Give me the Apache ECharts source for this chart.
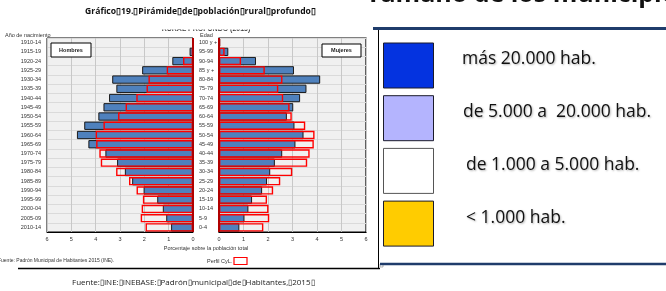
<!DOCTYPE html>
<html>
<head>
<meta charset="utf-8">
<script src="https://cdn.jsdelivr.net/npm/echarts@6/dist/echarts.min.js"></script>
<style>
  html, body { margin: 0; padding: 0; background: #fff; }
  #chart { width: 666px; height: 291px; }
</style>
</head>
<body>
<div id="chart"></div>
<script>
// edades (eje central) y años de nacimiento, de arriba a abajo
const ages = ['100 y +', '95-99', '90-94', '85 y +', '80-84', '75-79', '70-74', '65-69', '60-64', '55-59', '50-54',
  '45-49', '40-44', '35-39', '30-34', '25-29', '20-24', '15-19', '10-14', '5-9', '0-4'];
const birthYears = ['1910-14', '1915-19', '1920-24', '1925-29', '1930-34', '1935-39', '1940-44', '1945-49', '1950-54',
  '1955-59', '1960-64', '1965-69', '1970-74', '1975-79', '1980-84', '1985-89', '1990-94', '1995-99', '2000-04',
  '2005-09', '2010-14'];

// % sobre la población total
const menRural = [0.03, 0.14, 0.85, 2.09, 3.32, 3.15, 3.45, 3.68, 3.89, 4.47, 4.77, 4.3, 3.6, 3.12, 2.8, 2.5, 2.03, 1.47, 1.24, 1.1, 0.9];
const menCyL = [0.02, 0.05, 0.41, 1.08, 1.83, 1.91, 2.33, 2.77, 3.08, 3.68, 4.0, 3.98, 3.85, 3.79, 3.16, 2.63, 2.32, 2.06, 2.11, 2.15, 1.95];
const womenRural = [0.05, 0.38, 1.51, 3.06, 4.13, 3.57, 3.31, 3.03, 2.77, 3.08, 3.45, 3.12, 2.58, 2.28, 2.09, 1.96, 1.76, 1.35, 1.2, 1.04, 0.83];
const womenCyL = [0.04, 0.23, 0.9, 1.87, 2.59, 2.42, 2.62, 2.88, 2.97, 3.52, 3.9, 3.87, 3.7, 3.6, 2.99, 2.5, 2.21, 1.96, 2.02, 2.05, 1.81];

const legendLabels = ['más 20.000 hab.', 'de 5.000 a  20.000 hab.', 'de 1.000 a 5.000 hab.', '< 1.000 hab.'];
const legendColors = ['#0433e0', '#b4b4fe', '#ffffff', '#ffcc00'];

const B = '\u25AF';
const small = { fontFamily: 'Liberation Sans', fontSize: 5.5, color: '#333' };

const myChart = echarts.init(document.getElementById('chart'));

function xAx(gridIndex, inverse) {
  return {
    type: 'value', gridIndex, inverse, min: 0, max: 6, interval: 1,
    axisLine: { show: true, lineStyle: { color: '#000', width: 1 } },
    axisTick: { show: false },
    axisLabel: Object.assign({ margin: 4 }, small),
    splitLine: { show: true, lineStyle: { color: '#c8c8c8', width: 1 } }
  };
}
function yAx(gridIndex, labels, align, margin) {
  return {
    type: 'category', gridIndex, data: labels, inverse: true,
    axisLine: { show: false }, axisTick: { show: false },
    axisLabel: Object.assign({ margin, align, interval: 0 }, small),
    splitLine: { show: true, interval: 0, lineStyle: { color: '#dadada', width: 1 } }
  };
}
const zeroLine = {
  silent: true, symbol: 'none', label: { show: false },
  lineStyle: { color: '#b00000', width: 2, type: 'solid' },
  data: [{ xAxis: 0 }]
};
function bars(idx, data, profile) {
  return {
    type: 'bar', xAxisIndex: idx, yAxisIndex: idx, data,
    barGap: '-100%', barCategoryGap: '10%', silent: true,
    itemStyle: profile
      ? { color: 'rgba(0,0,0,0)', borderColor: '#ff0000', borderWidth: 1.4 }
      : { color: '#4f81bd', borderColor: '#1a1a1a', borderWidth: 1 },
    z: profile ? 3 : 2,
    markLine: profile ? zeroLine : undefined
  };
}

const graphic = [
  { type: 'text', x: 366, y: 7.5, style: { text: 'Tamaño de los municipios', font: 'bold 25px "Open Sans"', fill: '#111', textVerticalAlign: 'bottom' } },
  { type: 'text', x: 200.5, y: 12, style: { text: 'Gráfico' + B + '19.' + B + 'Pirámide' + B + 'de' + B + 'población' + B + 'rural' + B + 'profundo' + B, font: 'bold 8.6px "Open Sans"', fill: '#111', textAlign: 'center', textVerticalAlign: 'middle' } },
  { type: 'text', x: 206, y: 29, style: { text: 'RURAL PROFUNDO (2015)', font: 'bold 7px "Liberation Sans"', fill: '#444', textAlign: 'center', textVerticalAlign: 'middle' } },
  { type: 'rect', shape: { x: 150, y: 20, width: 110, height: 9.5 }, style: { fill: '#fff' }, z: 10 },
  { type: 'text', x: 5, y: 35, style: { text: 'Año de nacimiento', font: '5.5px "Liberation Sans"', fill: '#333', textVerticalAlign: 'middle' } },
  { type: 'text', x: 200, y: 35, style: { text: 'Edad', font: '5.5px "Liberation Sans"', fill: '#333', textVerticalAlign: 'middle' } },
  { type: 'rect', shape: { x: 51, y: 43, width: 40, height: 14 }, style: { fill: '#fff', stroke: '#000', lineWidth: 1 }, z: 10 },
  { type: 'text', x: 71, y: 50, z: 11, style: { text: 'Hombres', font: 'bold 5.5px "Liberation Sans"', fill: '#222', textAlign: 'center', textVerticalAlign: 'middle' } },
  { type: 'rect', shape: { x: 322, y: 44, width: 39, height: 13 }, style: { fill: '#fff', stroke: '#000', lineWidth: 1 }, z: 10 },
  { type: 'text', x: 341.5, y: 50.5, z: 11, style: { text: 'Mujeres', font: 'bold 5.5px "Liberation Sans"', fill: '#222', textAlign: 'center', textVerticalAlign: 'middle' } },
  { type: 'text', x: 206, y: 248, style: { text: 'Porcentaje sobre la población total', font: '5.5px "Liberation Sans"', fill: '#333', textAlign: 'center', textVerticalAlign: 'middle' } },
  { type: 'text', x: -2, y: 261, style: { text: 'Fuente: Padrón Municipal de Habitantes 2015 (INE).', font: '5px "Liberation Sans"', fill: '#333', textVerticalAlign: 'middle' } },
  { type: 'text', x: 207, y: 261, style: { text: 'Perfil CyL.', font: '5.5px "Liberation Sans"', fill: '#333', textVerticalAlign: 'middle' } },
  { type: 'rect', shape: { x: 234, y: 257.5, width: 13, height: 7 }, style: { fill: '#fff', stroke: '#ff0000', lineWidth: 1.2 } },
  { type: 'line', shape: { x1: 18, y1: 268.5, x2: 380, y2: 268.5 }, style: { stroke: '#000', lineWidth: 1.5 } },
  { type: 'line', shape: { x1: 378.5, y1: 28, x2: 378.5, y2: 268 }, style: { stroke: '#000', lineWidth: 1 } },
  { type: 'rect', shape: { x: 380, y: 264, width: 3, height: 3 }, style: { fill: '#fff', stroke: '#888', lineWidth: 0.6 } },
  { type: 'line', shape: { x1: 373, y1: 28.5, x2: 666, y2: 28.5 }, style: { stroke: '#1f3c6b', lineWidth: 3 } },
  { type: 'line', shape: { x1: 380, y1: 264, x2: 666, y2: 264 }, style: { stroke: '#1f3c6b', lineWidth: 2.5 } },
  { type: 'text', x: 72, y: 283, style: { text: 'Fuente:' + B + 'INE:' + B + 'INEBASE:' + B + 'Padrón' + B + 'municipal' + B + 'de' + B + 'Habitantes,' + B + '2015' + B, font: '8px "Open Sans"', fill: '#222', textVerticalAlign: 'middle' } }
];
legendLabels.forEach(function (label, i) {
  const top = 43 + i * 52.7;
  graphic.push({ type: 'rect', shape: { x: 383.5, y: top, width: 50, height: 45 }, style: { fill: legendColors[i], stroke: i === 2 ? '#555' : '#1a1a2a', lineWidth: 1 } });
  graphic.push({ type: 'text', x: i === 0 ? 462 : (i === 1 ? 463 : 466), y: top + 16.5, style: {
    text: label, font: '17.5px "Open Sans"', fill: '#111', textVerticalAlign: 'middle',
    textShadowColor: 'rgba(0,0,0,0.3)', textShadowBlur: 2, textShadowOffsetX: 1, textShadowOffsetY: 1 } });
});

myChart.setOption({
  animation: false,
  backgroundColor: '#fff',
  grid: [
    { left: 47, top: 38, width: 146, height: 194, show: true, backgroundColor: '#f0f0f0', borderColor: '#000', borderWidth: 1, outerBoundsMode: 'none' },
    { left: 219, top: 38, width: 147, height: 194, show: true, backgroundColor: '#f0f0f0', borderColor: '#000', borderWidth: 1.2, outerBoundsMode: 'none' }
  ],
  xAxis: [xAx(0, true), xAx(1, false)],
  yAxis: [yAx(0, birthYears, 'right', 6), yAx(1, ages, 'left', 20)],
  series: [
    bars(0, menRural, false),
    bars(0, menCyL, true),
    bars(1, womenRural, false),
    bars(1, womenCyL, true)
  ],
  graphic
});

window.addEventListener('beforeunload', function () { myChart.dispose(); });
</script>
</body>
</html>
